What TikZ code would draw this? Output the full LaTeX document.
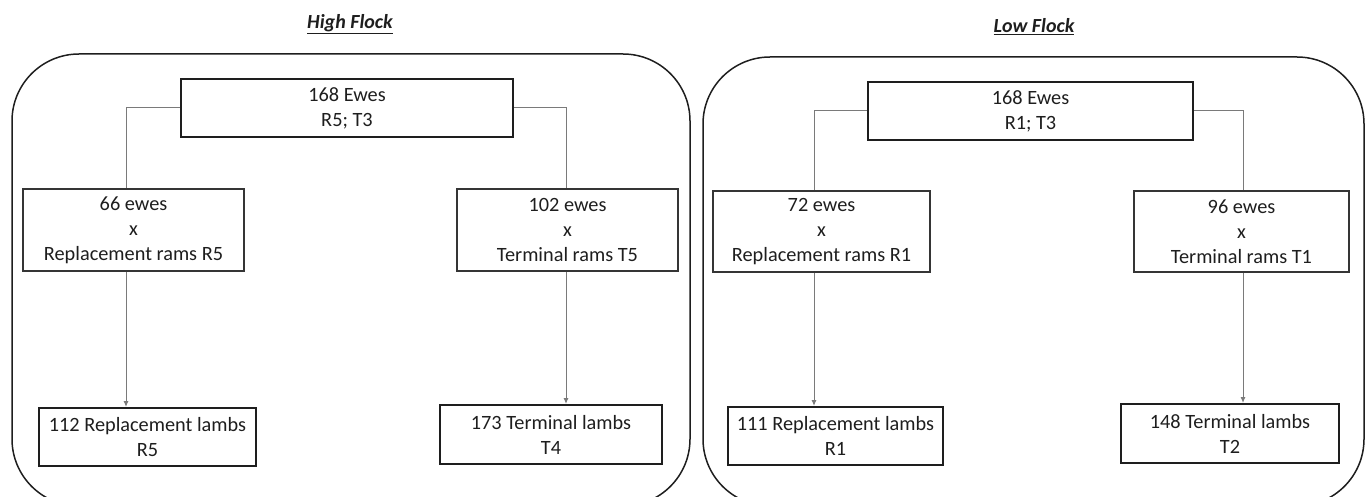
\documentclass[tikz,border=0pt]{standalone}
\usepackage{fontspec}
\setmainfont{Carlito}
\usetikzlibrary{arrows.meta}
\definecolor{txt}{HTML}{1E1E1E}
\definecolor{conn}{HTML}{7A7A7A}
\tikzset{
  boxtext/.style={font=\fontsize{20.3}{25}\selectfont, text=txt, align=center, inner sep=0pt},
  thickbox/.style={boxtext, draw=txt, line width=2pt},
  thinbox/.style={boxtext, draw=txt!90, line width=1.3pt},
  flock/.style={draw=txt, line width=1.5pt, rounded corners=67pt, inner sep=0pt},
  title/.style={font=\fontsize{20}{24}\selectfont\bfseries\itshape, text=txt, inner sep=0pt},
  link/.style={draw=conn, line width=1pt},
  arr/.style={link, -{Latex[length=6pt,width=5pt]}}
}
\begin{document}
\begin{tikzpicture}[x=1pt,y=-1pt]
\useasboundingbox (0,0) rectangle (1366,497);
% outer frames
\node[flock, minimum width=678pt, minimum height=452pt] (hf) at (351,280) {};
\node[flock, minimum width=661pt, minimum height=449pt] (lf) at (1033.5,281.5) {};
% titles
\node[title] (ht) at (350,24) {\underline{High Flock}};
\node[title] (lt) at (1034,27) {\underline{Low Flock}};
% High flock nodes
\node[thickbox, minimum width=332pt, minimum height=58pt] (top1) at (347,108) {168 Ewes\\R5; T3};
\node[thinbox, minimum width=221pt, minimum height=82pt] (midL1) at (133.5,230) {66 ewes\\x\\Replacement rams R5};
\node[thinbox, minimum width=221pt, minimum height=82pt] (midR1) at (567.5,230) {102 ewes\\x\\Terminal rams T5};
\node[thickbox, minimum width=217pt, minimum height=58pt] (botL1) at (147.5,437) {112 Replacement lambs\\R5};
\node[thickbox, minimum width=222pt, minimum height=59pt] (botR1) at (551,434.5) {173 Terminal lambs\\T4};
% Low flock nodes
\node[thickbox, minimum width=325pt, minimum height=58pt] (top2) at (1030.5,111) {168 Ewes\\R1; T3};
\node[thinbox, minimum width=217pt, minimum height=81pt] (midL2) at (821.5,231.5) {72 ewes\\x\\Replacement rams R1};
\node[thinbox, minimum width=215pt, minimum height=81pt] (midR2) at (1241.5,231.5) {96 ewes\\x\\Terminal rams T1};
\node[thickbox, minimum width=215pt, minimum height=58pt] (botL2) at (835.5,436) {111 Replacement lambs\\R1};
\node[thickbox, minimum width=218pt, minimum height=59pt] (botR2) at (1230,433.5) {148 Terminal lambs\\T2};
% connector columns
\coordinate (c1) at (126,0);
\coordinate (c2) at (566,0);
\coordinate (c3) at (814,0);
\coordinate (c4) at (1243,0);
% High flock connectors
\draw[link] (top1.west) -| (c1 |- midL1.north);
\draw[link] (top1.east) -| (c2 |- midR1.north);
\draw[arr] (c1 |- midL1.south) -- (c1 |- botL1.north);
\draw[arr] (c2 |- midR1.south) -- (c2 |- botR1.north);
% Low flock connectors
\draw[link] (top2.west) -| (c3 |- midL2.north);
\draw[link] (top2.east) -| (c4 |- midR2.north);
\draw[arr] (c3 |- midL2.south) -- (c3 |- botL2.north);
\draw[arr] (c4 |- midR2.south) -- (c4 |- botR2.north);
\end{tikzpicture}
\end{document}
